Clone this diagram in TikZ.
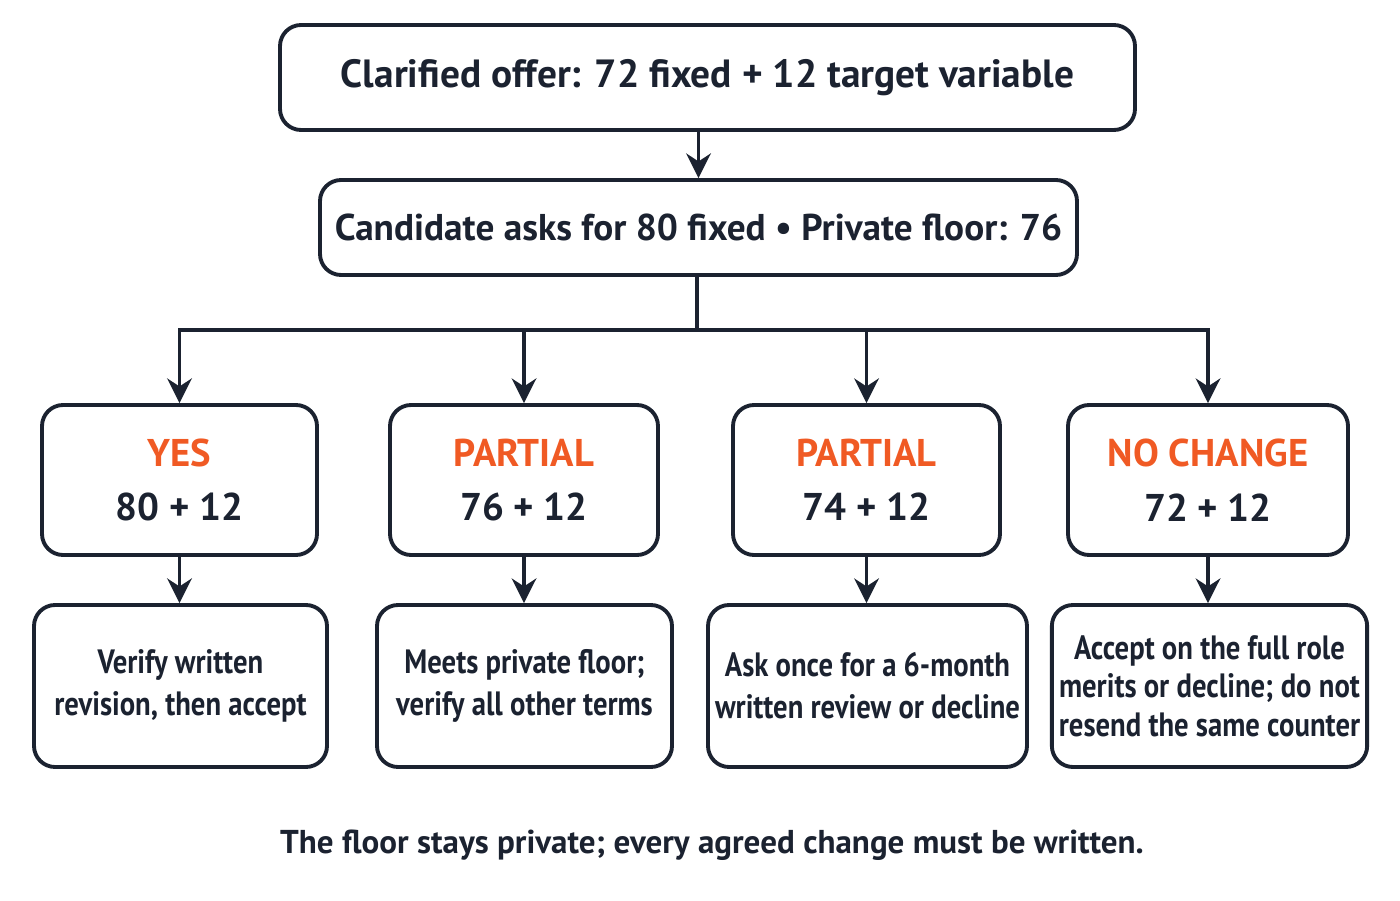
\documentclass[tikz,border=0pt]{standalone}
\usepackage{fontspec}
\setmainfont{PT Sans}
\newfontfamily\narrow[FakeStretch=0.85]{PT Sans}
\usetikzlibrary{arrows.meta}
\definecolor{ink}{HTML}{1B2230}
\definecolor{hot}{HTML}{F05A24}
\tikzstyle{bx}=[draw=ink,line width=1.1pt,rounded corners=6pt,text=ink,align=center,inner sep=2pt]
\tikzstyle{mid}=[bx,minimum height=1.5cm,font=\fontsize{11}{15.5}\selectfont\bfseries]
\tikzstyle{tip}=[bx,minimum height=1.62cm,font=\narrow\fontsize{9.6}{12}\selectfont\bfseries]
\tikzstyle{ar}=[-{Stealth[length=7pt,width=7pt]},draw=ink,line width=1pt]
\begin{document}
\begin{tikzpicture}[x=1cm,y=1cm]
\useasboundingbox (0,0) rectangle (14,9);
\node[bx,minimum width=8.55cm,minimum height=1.05cm,font=\fontsize{11.2}{14}\selectfont\bfseries] (top) at (7.075,8.225) {Clarified offer: 72 fixed + 12 target variable};
\node[bx,minimum width=7.57cm,minimum height=0.95cm,font=\fontsize{10.6}{13}\selectfont\bfseries] (ask) at (6.985,6.725) {Candidate asks for 80 fixed \textbullet{} Private floor: 76};
\draw[ar] (ask.north |- top.south) -- (ask.north);
% outcome row
\node[mid,minimum width=2.75cm] (yes) at (1.795,4.2) {\textcolor{hot}{YES}\\80 + 12};
\node[mid,minimum width=2.68cm] (pa) at (5.24,4.2) {\textcolor{hot}{PARTIAL}\\76 + 12};
\node[mid,minimum width=2.67cm] (pb) at (8.665,4.2) {\textcolor{hot}{PARTIAL}\\74 + 12};
\node[mid,minimum width=2.8cm] (nc) at (12.08,4.2) {\textcolor{hot}{NO CHANGE}\\72 + 12};
\coordinate (hub) at (6.97,5.7);
\draw[draw=ink,line width=1pt] (ask.south -| hub) -- (hub);
\foreach \n in {yes,pa,pb,nc}
  \draw[ar] (hub) -| (\n.north);
% advice row
\node[tip,minimum width=2.93cm] (ya) at (1.805,2.14) {Verify written\\revision, then accept};
\node[tip,minimum width=2.95cm] (paa) at (5.245,2.14) {Meets private floor;\\verify all other terms};
\node[tip,minimum width=3.05cm] (pba) at (8.675,2.14) {Ask once for a 6-month\\written review or decline};
\node[tip,minimum width=3.09cm,font=\narrow\fontsize{9.6}{11}\selectfont\bfseries] (nca) at (12.095,2.14) {Accept on the full role\\merits or decline; do not\\resend the same counter};
\draw[ar] (yes) -- (yes.south |- ya.north);
\draw[ar] (pa) -- (pa.south |- paa.north);
\draw[ar] (pb) -- (pb.south |- pba.north);
\draw[ar] (nc) -- (nc.south |- nca.north);
\node[text=ink,font=\fontsize{9.4}{12}\selectfont\bfseries] (note) at (7.12,0.55) {The floor stays private; every agreed change must be written.};
\end{tikzpicture}
\end{document}
